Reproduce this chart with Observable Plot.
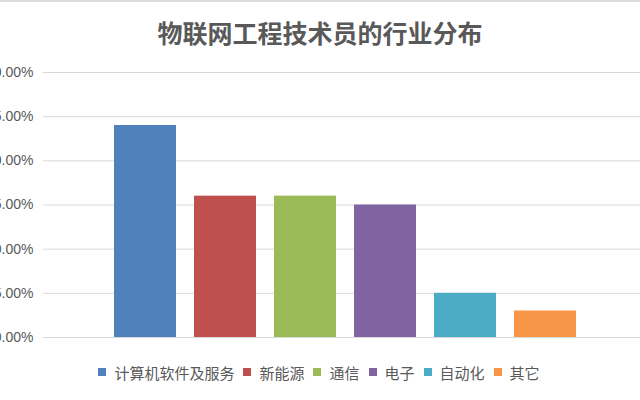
<!DOCTYPE html>
<html>
<head>
<meta charset="utf-8">
<script src="https://cdn.jsdelivr.net/npm/d3@7"></script>
<script src="https://cdn.jsdelivr.net/npm/@observablehq/plot@0.6"></script>
<style>
  html, body { margin: 0; padding: 0; background: #fff; overflow: hidden; }
  #wrap { width: 640px; height: 400px; position: relative; border-top: 2px solid #dcdcdc; box-sizing: border-box; }
  #title { height: 58px; line-height: 60px; text-align: center; font-family: "Noto Sans CJK SC", sans-serif; font-weight: 700; font-size: 25px; color: #595959; padding-left: -2px; }
  #legend { display: flex; justify-content: center; align-items: center; height: 44px; font-family: "Noto Sans CJK SC", sans-serif; font-size: 15px; color: #595959; margin-left: -2px; }
  .item { display: flex; align-items: center; margin: 0 4.5px; }
  .sw { width: 8px; height: 8px; margin-right: 8px; }
  svg { display: block; }
</style>
</head>
<body>
<div id="wrap">
  <div id="title">物联网工程技术员的行业分布</div>
  <div id="chart"></div>
  <div id="legend"></div>
</div>
<script>
const categories = ["计算机软件及服务", "新能源", "通信", "电子", "自动化", "其它"];
const shares = [0.24, 0.16, 0.16, 0.15, 0.05, 0.03];
const colors = ["#4F81BD", "#C0504D", "#9BBB59", "#8064A2", "#4BACC6", "#F79646"];
const yTicks = [0, 0.05, 0.10, 0.15, 0.20, 0.25, 0.30];

const data = categories.map((c, i) => ({category: c, share: shares[i]}));

const chart = Plot.plot({
  width: 640,
  height: 290,
  marginLeft: 43,
  marginRight: 0,
  marginTop: 12,
  marginBottom: 13,
  style: {fontFamily: "'Liberation Sans', Arial, sans-serif", fontSize: "14px", color: "#595959", background: "#fff"},
  x: {domain: categories, paddingInner: 0.22, paddingOuter: 0.11, insetLeft: 61, insetRight: 54, axis: null},
  y: {domain: [0, 0.30], ticks: yTicks, tickFormat: d3.format(".2%"), tickSize: 0, tickPadding: 10, label: null, grid: false},
  color: {domain: categories, range: colors},
  marks: [
    Plot.gridY(yTicks, {stroke: "#d9d9d9", strokeOpacity: 1, strokeWidth: 1}),
    Plot.barY(data, {x: "category", y: "share", fill: "category"}),
    Plot.axisY(yTicks, {tickSize: 0, tickPadding: 10, tickFormat: d3.format(".2%"), fill: "#595959", fontSize: 14})
  ]
});
document.getElementById("chart").appendChild(chart);

const legend = document.getElementById("legend");
categories.forEach((c, i) => {
  const it = document.createElement("div");
  it.className = "item";
  const sw = document.createElement("span");
  sw.className = "sw";
  sw.style.background = colors[i];
  const tx = document.createElement("span");
  tx.textContent = c;
  it.appendChild(sw);
  it.appendChild(tx);
  legend.appendChild(it);
});
</script>
</body>
</html>
